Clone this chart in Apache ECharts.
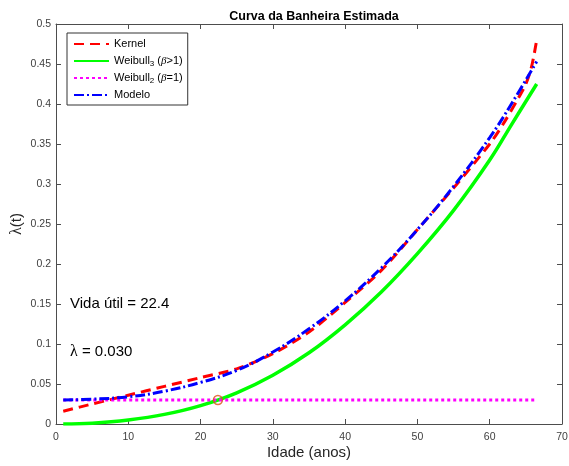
<!DOCTYPE html>
<html>
<head>
<meta charset="utf-8">
<script src="https://cdn.jsdelivr.net/npm/echarts@6/dist/echarts.min.js"></script>
<style>
  html, body { margin: 0; padding: 0; background: #fff; }
  #chart { width: 569px; height: 466px; }
</style>
</head>
<body>
<div id="chart"></div>
<script>
// values
var ages     = [1, 5, 10, 15, 20, 25, 30, 35, 40, 45, 50, 55, 60, 63, 66.5];
var weibull3 = [0.000, 0.001, 0.005, 0.012, 0.023, 0.039, 0.061, 0.089, 0.124, 0.165, 0.213, 0.267, 0.330, 0.374, 0.425];
var modelo   = [0.030, 0.031, 0.034, 0.041, 0.052, 0.067, 0.090, 0.119, 0.154, 0.195, 0.243, 0.297, 0.358, 0.400, 0.453];

var kernelAges = [1, 5, 10, 15, 20, 25, 30, 35, 40, 45, 50, 55, 60, 62, 64, 65, 65.8, 66.5];
var kernel     = [0.016, 0.025, 0.036, 0.047, 0.058, 0.069, 0.088, 0.115, 0.152, 0.192, 0.243, 0.295, 0.350, 0.377, 0.408, 0.425, 0.447, 0.480];

var weibull2Ages = [1, 66.5];
var weibull2     = [0.030, 0.030];

var vidaUtilAge = [22.4];
var vidaUtilVal = [0.030];

var xMin = 0, xMax = 70, xStep = 10;
var yMin = 0, yMax = 0.5, yStep = 0.05;

function pairs(xs, ys) {
	var out = [];
	for (var i = 0; i < xs.length; i++) {
		out.push([xs[i], ys[i]]);
	}
	return out;
}

var font = "'Liberation Sans', Arial, sans-serif";
var axisColor = '#4d4d4d';

var legendNames = {
	'Kernel': 'Kernel',
	'Weibull3': 'Weibull{sub|3} ({g|β}>1)',
	'Weibull2': 'Weibull{sub|2} ({g|β}=1)',
	'Modelo': 'Modelo'
};

var chart = echarts.init(document.getElementById('chart'), null, { renderer: 'canvas' });

function makeAxis(min, max, step, extra) {
	var ax = {
		type: 'value', min: min, max: max, interval: step,
		axisLine: { show: true, onZero: false, lineStyle: { color: axisColor, width: 1 } },
		axisTick: { show: true, inside: true, length: 5, lineStyle: { color: axisColor } },
		splitLine: { show: false }
	};
	for (var k in extra) ax[k] = extra[k];
	return ax;
}

var option = {
	animation: false,
	backgroundColor: '#fff',
	textStyle: { fontFamily: font },
	title: {
		text: 'Curva da Banheira Estimada',
		left: 309, top: 5, textAlign: 'center',
		textStyle: { fontFamily: font, fontSize: 12.5, fontWeight: 'bold', color: '#000' }
	},
	grid: { left: 56, right: 7, top: 24, bottom: 42, containLabel: false, outerBoundsMode: 'none' },
	legend: {
		orient: 'vertical',
		left: 67, top: 33,
		padding: [4, 5, 3, 6],
		itemWidth: 35, itemHeight: 10, itemGap: 3,
		backgroundColor: '#fff',
		borderColor: '#333', borderWidth: 1, borderRadius: 0,
		itemStyle: { opacity: 0, borderWidth: 0 },
		data: ['Kernel', 'Weibull3', 'Weibull2', 'Modelo'],
		formatter: function (name) { return legendNames[name]; },
		textStyle: {
			fontFamily: font, fontSize: 11, color: '#000', lineHeight: 14,
			rich: {
				sub: { fontSize: 8, lineHeight: 14, verticalAlign: 'bottom', fontFamily: font },
				g: { fontStyle: 'italic', fontFamily: "'Liberation Serif', serif", fontSize: 11, lineHeight: 14 }
			}
		}
	},
	xAxis: [
		makeAxis(xMin, xMax, xStep, {
			position: 'bottom',
			name: 'Idade (anos)', nameLocation: 'middle', nameGap: 21, nameMoveOverlap: false,
			nameTextStyle: { fontFamily: font, fontSize: 15, color: '#262626' },
			axisLabel: { show: true, inside: false, margin: 8, fontSize: 10.5, color: '#404040', fontFamily: font }
		}),
		makeAxis(xMin, xMax, xStep, { position: 'top', axisLabel: { show: false } })
	],
	yAxis: [
		makeAxis(yMin, yMax, yStep, {
			position: 'left',
			name: '{g|λ}(t)', nameLocation: 'middle', nameGap: 31, nameRotate: 90, nameMoveOverlap: false,
			nameTextStyle: {
				fontFamily: font, fontSize: 15, color: '#262626',
				rich: { g: { fontFamily: "'Liberation Serif', serif", fontSize: 16, color: '#262626' } }
			},
			axisLabel: { show: true, inside: false, margin: 5, fontSize: 10.5, color: '#404040', fontFamily: font }
		}),
		makeAxis(yMin, yMax, yStep, { position: 'right', axisLabel: { show: false } })
	],
	series: [
		{
			name: 'Kernel', type: 'line', symbol: 'none', smooth: 0.3,
			data: pairs(kernelAges, kernel),
			lineStyle: { color: '#ff0000', width: 3, type: [10, 6], cap: 'butt' },
			itemStyle: { color: '#ff0000' }, z: 2
		},
		{
			name: 'Weibull3', type: 'line', symbol: 'none', smooth: 0.4,
			data: pairs(ages, weibull3),
			lineStyle: { color: '#00ff00', width: 3.5 },
			itemStyle: { color: '#00ff00' }, z: 3
		},
		{
			name: 'Weibull2', type: 'line', symbol: 'none',
			data: pairs(weibull2Ages, weibull2),
			lineStyle: { color: '#ff00ff', width: 3, type: [3, 3], cap: 'butt' },
			itemStyle: { color: '#ff00ff' }, z: 4
		},
		{
			name: 'Modelo', type: 'line', symbol: 'none', smooth: 0.4,
			data: pairs(ages, modelo),
			lineStyle: { color: '#0000ff', width: 3, type: [10, 3, 2, 3], cap: 'butt' },
			itemStyle: { color: '#0000ff' }, z: 5
		},
		{
			name: 'vida', type: 'scatter', symbol: 'circle', symbolSize: 9,
			data: pairs(vidaUtilAge, vidaUtilVal),
			itemStyle: { color: 'rgba(0,0,0,0)', borderColor: '#d95319', borderWidth: 1.5 },
			z: 6
		}
	],
	graphic: [
		{
			type: 'text', left: 70, top: 296,
			style: { text: 'Vida útil = 22.4', font: "15px 'Liberation Sans', Arial, sans-serif", fill: '#000' }
		},
		{
			type: 'text', left: 70, top: 344,
			style: {
				text: '{g|λ} = 0.030',
				font: "15px 'Liberation Sans', Arial, sans-serif", fill: '#000',
				rich: { g: { fontFamily: "'Liberation Serif', serif", fontSize: 16, fill: '#000' } }
			}
		}
	]
};

chart.setOption(option);
</script>
</body>
</html>
